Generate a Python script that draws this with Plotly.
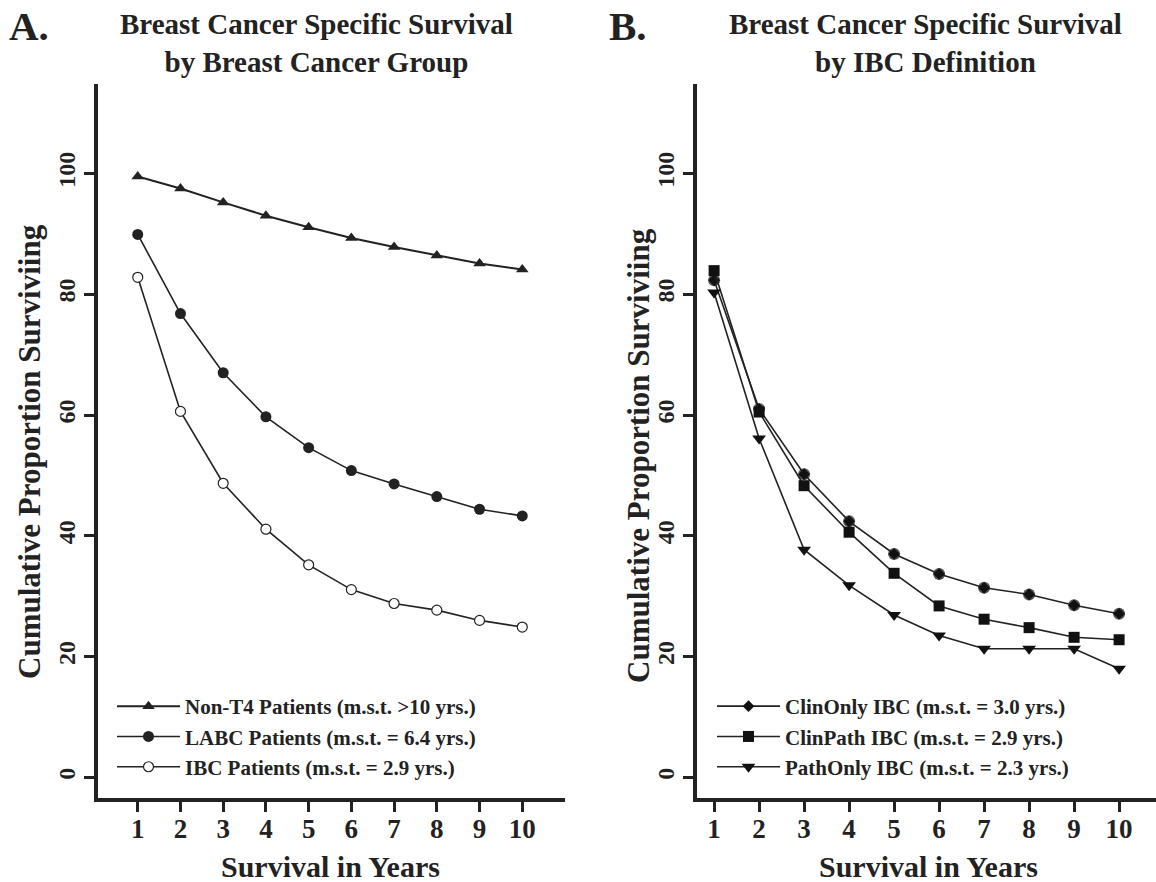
import plotly.graph_objects as go

years = [1, 2, 3, 4, 5, 6, 7, 8, 9, 10]

# Panel A: by breast cancer group
non_t4 = [99.5, 97.5, 95.2, 93.0, 91.1, 89.3, 87.8, 86.4, 85.1, 84.1]
labc = [89.9, 76.8, 67.0, 59.7, 54.6, 50.8, 48.6, 46.5, 44.4, 43.3]
ibc = [82.8, 60.6, 48.7, 41.1, 35.2, 31.1, 28.8, 27.7, 26.0, 24.9]

# Panel B: by IBC definition
clin_only = [82.3, 61.0, 50.2, 42.4, 37.0, 33.7, 31.4, 30.3, 28.5, 27.1]
clin_path = [83.9, 60.5, 48.3, 40.6, 33.8, 28.4, 26.2, 24.8, 23.2, 22.8]
path_only = [80.3, 56.1, 37.7, 31.8, 26.9, 23.5, 21.3, 21.3, 21.3, 18.0]

names_a = ["Non-T4 Patients (m.s.t. >10 yrs.)",
           "LABC Patients (m.s.t. = 6.4 yrs.)",
           "IBC Patients (m.s.t. = 2.9 yrs.)"]
names_b = ["ClinOnly IBC (m.s.t. = 3.0 yrs.)",
           "ClinPath IBC (m.s.t. = 2.9 yrs.)",
           "PathOnly IBC (m.s.t. = 2.3 yrs.)"]
y_ticks = [0, 20, 40, 60, 80, 100]

FONT = "Liberation Serif"
INK = "#222222"
W, H = 1156, 882

def px(x):
    return x / W

def py(y):
    return 1 - y / H

fig = go.Figure()

line = dict(color=INK, width=1.6)

fig.add_trace(go.Scatter(x=years, y=non_t4, mode="lines+markers", name=names_a[0],
                         line=dict(color=INK, width=2),
                         marker=dict(symbol="triangle-up", size=11, color=INK),
                         xaxis="x", yaxis="y", legend="legend"))
fig.add_trace(go.Scatter(x=years, y=labc, mode="lines+markers", name=names_a[1],
                         line=line,
                         marker=dict(symbol="circle", size=11, color=INK),
                         xaxis="x", yaxis="y", legend="legend"))
fig.add_trace(go.Scatter(x=years, y=ibc, mode="lines+markers", name=names_a[2],
                         line=line,
                         marker=dict(symbol="circle", size=10, color="white",
                                     line=dict(color=INK, width=1.2)),
                         xaxis="x", yaxis="y", legend="legend"))

# Panel B
fig.add_trace(go.Scatter(x=years, y=clin_only, mode="markers", showlegend=False,
                         marker=dict(symbol="circle", size=12, color="#555555"),
                         xaxis="x2", yaxis="y2", hoverinfo="skip"))
fig.add_trace(go.Scatter(x=years, y=clin_only, mode="lines+markers", name=names_b[0],
                         line=line,
                         marker=dict(symbol="diamond", size=9, color="#111111"),
                         xaxis="x2", yaxis="y2", legend="legend2"))
fig.add_trace(go.Scatter(x=years, y=clin_path, mode="lines+markers", name=names_b[1],
                         line=line,
                         marker=dict(symbol="square", size=11, color="#111111"),
                         xaxis="x2", yaxis="y2", legend="legend2"))
fig.add_trace(go.Scatter(x=years, y=path_only, mode="lines+markers", name=names_b[2],
                         line=line,
                         marker=dict(symbol="triangle-down", size=12, color="#111111"),
                         xaxis="x2", yaxis="y2", legend="legend2"))

xtickfont = dict(family=FONT, size=27, color=INK, weight="bold")
ytickfont = dict(family=FONT, size=24, color=INK, weight="bold")
xax = dict(range=[0.07, 11.0], tickvals=years, ticks="outside", ticklen=10, tickwidth=3,
           tickcolor=INK, showline=True, linecolor=INK, linewidth=3.5,
           showgrid=False, zeroline=False, tickfont=xtickfont, ticklabelstandoff=-6)
yax = dict(range=[-3.4, 114.8], tickvals=y_ticks, ticks="outside", ticklen=10, tickwidth=3,
           tickcolor=INK, showline=True, linecolor=INK, linewidth=3.5,
           showgrid=False, zeroline=False, tickfont=ytickfont, tickangle=-90,
           ticklabelstandoff=0)

legfont = dict(family=FONT, size=21, color=INK, weight="bold")

annots = [
    dict(text="<b>A.</b>", x=px(7), y=py(26), xanchor="left", yanchor="middle",
         font=dict(family=FONT, size=41, color=INK)),
    dict(text="<b>B.</b>", x=px(607), y=py(26), xanchor="left", yanchor="middle",
         font=dict(family=FONT, size=41, color=INK)),
    dict(text="<b>Breast Cancer Specific Survival<br>by Breast Cancer Group</b>",
         x=px(316), y=py(43), xanchor="center", yanchor="middle",
         font=dict(family=FONT, size=29, color=INK)),
    dict(text="<b>Breast Cancer Specific Survival<br>by IBC Definition</b>",
         x=px(926), y=py(43), xanchor="center", yanchor="middle",
         font=dict(family=FONT, size=29, color=INK)),
    dict(text="<b>Survival in Years</b>", x=px(330), y=py(866), xanchor="center", yanchor="middle",
         font=dict(family=FONT, size=30, color=INK)),
    dict(text="<b>Survival in Years</b>", x=px(928), y=py(866), xanchor="center", yanchor="middle",
         font=dict(family=FONT, size=30, color=INK)),
    dict(text="<b>Cumulative Proportion Surviviing</b>", x=px(29), y=py(452), textangle=-90,
         xanchor="center", yanchor="middle", font=dict(family=FONT, size=31, color=INK)),
    dict(text="<b>Cumulative Proportion Surviviing</b>", x=px(638), y=py(456), textangle=-90,
         xanchor="center", yanchor="middle", font=dict(family=FONT, size=31, color=INK)),
]
for a in annots:
    a.update(xref="paper", yref="paper", showarrow=False)

fig.update_layout(
    width=W, height=H, margin=dict(l=0, r=0, t=0, b=0, autoexpand=False),
    paper_bgcolor="white", plot_bgcolor="white",
    xaxis=dict(domain=[px(98), px(565)], anchor="y", **xax),
    yaxis=dict(domain=[py(798), py(84)], anchor="x", **yax),
    xaxis2=dict(domain=[px(697), 1.0], anchor="y2", **{**xax, "range": [0.62, 10.82]}),
    yaxis2=dict(domain=[py(798), py(84)], anchor="x2", **yax),
    legend=dict(x=px(112), y=py(686), xanchor="left", yanchor="top", font=legfont,
                bgcolor="rgba(0,0,0,0)", tracegroupgap=0, itemwidth=63),
    legend2=dict(x=px(712), y=py(686), xanchor="left", yanchor="top", font=legfont,
                 bgcolor="rgba(0,0,0,0)", tracegroupgap=0, itemwidth=63),
    annotations=annots,
    showlegend=True,
)

fig.write_html("out.html", config={"displayModeBar": False},
               post_script="document.body.style.margin='0';document.body.style.overflow='hidden';")
